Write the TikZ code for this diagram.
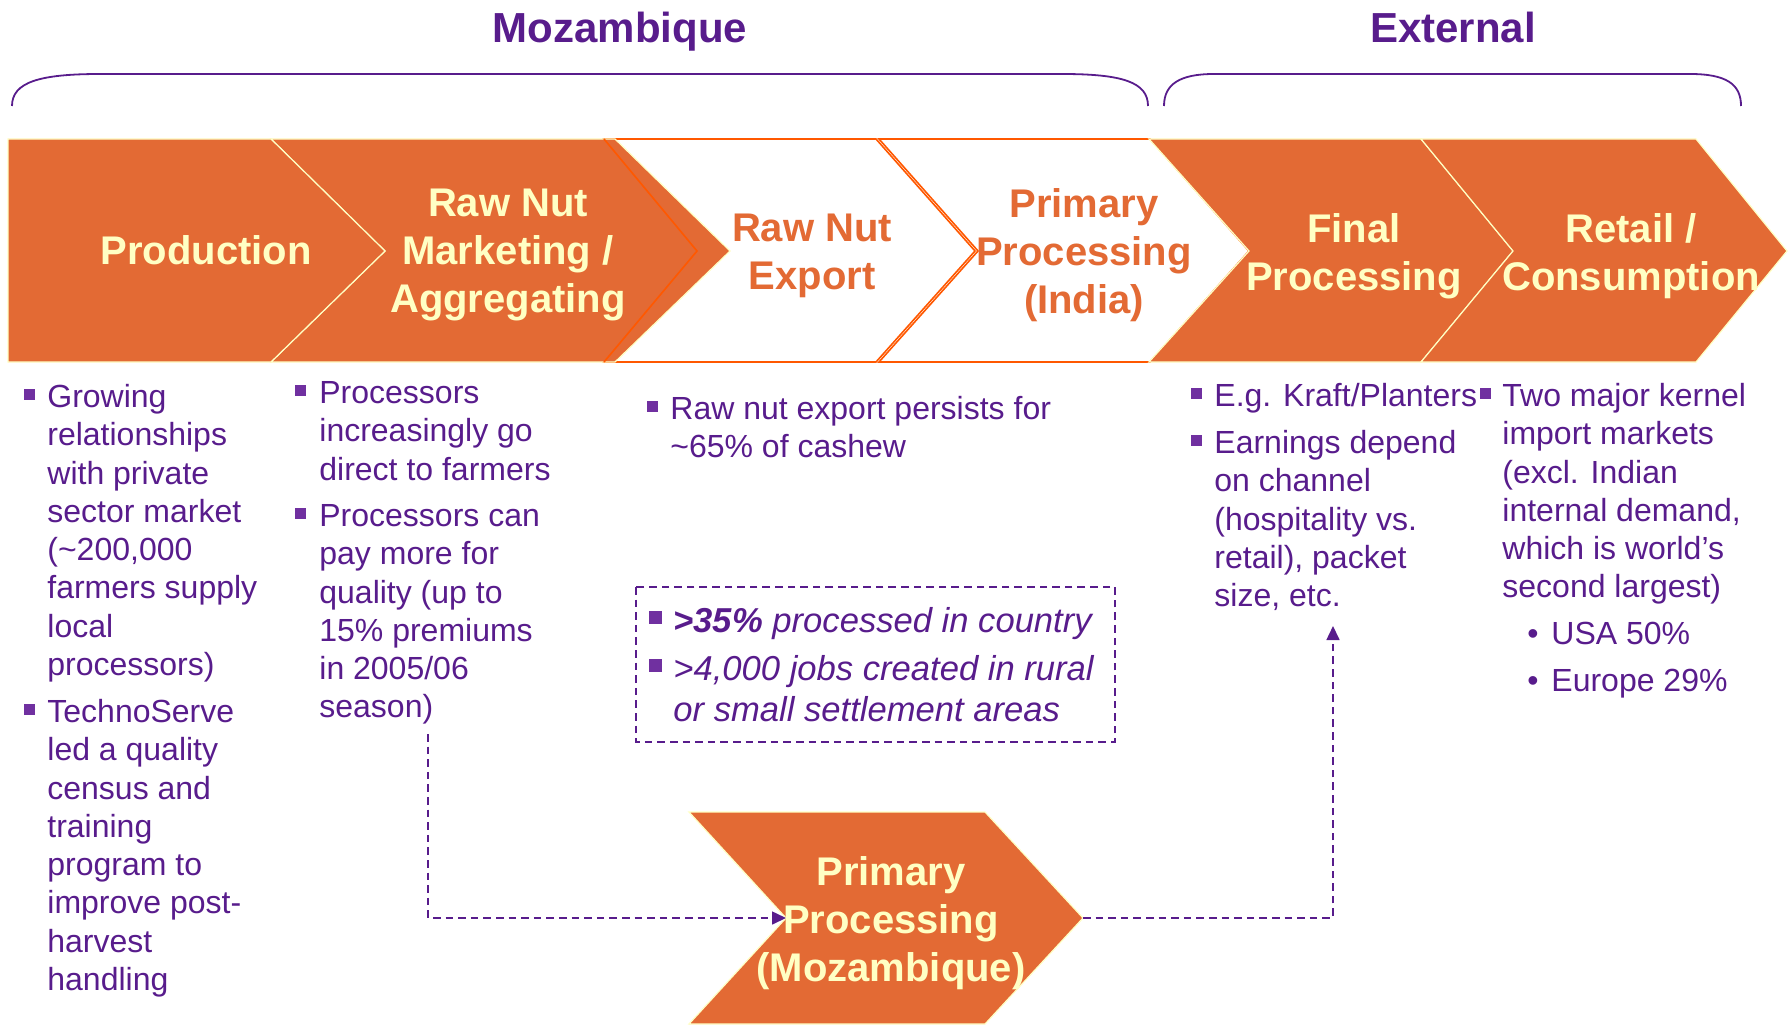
\documentclass[tikz,border=0pt]{standalone}
\usepackage{fontspec}
\setmainfont{Liberation Sans}
\usetikzlibrary{arrows.meta}

\definecolor{cashew}{RGB}{227,106,52}
\definecolor{cream}{RGB}{255,255,196}
\definecolor{rim}{RGB}{255,88,0}
\definecolor{plum}{RGB}{88,28,140}
\definecolor{bulc}{RGB}{112,48,160}

\tikzset{
  orch/.style={fill=cashew,draw=cream,line width=0.6pt},
  whch/.style={fill=white,draw=rim,line width=0.8pt},
  head/.style={font=\bfseries\fontsize{20}{24}\selectfont,align=center,text=cream},
  grp/.style={font=\bfseries\fontsize{21}{25}\selectfont,text=plum,anchor=base},
  brc/.style={draw=plum,line width=0.9pt},
  body/.style={anchor=north west,inner sep=0pt,align=left,text=plum,
    font=\fontsize{16}{19.15}\selectfont,yshift=13.4pt},
  boxt/.style={anchor=north west,inner sep=0pt,align=left,text=plum,
    font=\itshape\fontsize{17.3}{20.5}\selectfont,yshift=14.35pt},
  sq/.style={fill=bulc,minimum size=5.5pt,inner sep=0pt,yshift=6.5pt},
  bigsq/.style={fill=bulc,minimum size=6.5pt,inner sep=0pt,yshift=7.5pt},
  dot/.style={anchor=base,inner sep=0pt,text=plum,font=\fontsize{16}{19}\selectfont},
  note/.style={draw=plum,line width=0.8pt,dash pattern=on 3.8pt off 2.5pt},
  link/.style={note,-{Triangle[length=7pt,width=6.5pt]}},
}

\begin{document}
\begin{tikzpicture}[x=0.5pt,y=-0.5pt]
\useasboundingbox (0,0) rectangle (1791,1026);

% the two groups
\node[grp] (moz) at (620,43) {Mozambique};
\node[grp] (ext) at (1453,43) {External};
\draw[brc] (12,106) .. controls (12,82) and (40,74) .. (100,74) -- (1062,74)
  .. controls (1122,74) and (1148,82) .. (1148,106);
\draw[brc] (1164,106) .. controls (1164,84) and (1180,74) .. (1214,74) -- (1690,74)
  .. controls (1726,74) and (1741,84) .. (1741,106);

% value chain
\filldraw[whch] (604,139) -- (876,139) -- (975,251) -- (876,362) -- (604,362) -- (697,251) -- cycle;
\filldraw[whch] (879,139) -- (1150,139) -- (1249,251) -- (1150,362) -- (879,362) -- (978,251) -- cycle;
\filldraw[orch] (271,139) -- (615,139) -- (730,251) -- (615,362) -- (271,362) -- (385,251) -- cycle;
\draw[rim,line width=0.8pt] (604,139) -- (697,251) -- (604,362);
\filldraw[orch] (8,139) -- (271,139) -- (385,251) -- (271,362) -- (8,362) -- cycle;
\filldraw[orch] (1149,139) -- (1421,139) -- (1513,251) -- (1421,362) -- (1149,362) -- (1249,251) -- cycle;
\filldraw[orch] (1421,139) -- (1696,139) -- (1787,251) -- (1696,362) -- (1421,362) -- (1513,251) -- cycle;

\node[head] (prod) at (206,250) {Production};
\node[head] (mkt) at (508,255) {Raw Nut\\Marketing /\\Aggregating};
\node[head,text=cashew] (exp) at (812,256) {Raw Nut\\Export};
\node[head,text=cashew] (ppi) at (1084,255) {Primary\\Processing\\(India)};
\node[head] (fin) at (1354,256) {Final\\Processing};
\node[head] (ret) at (1631,256) {Retail /\\Consumption};

% local processing
\filldraw[orch] (689,812) -- (985,812) -- (1083,918) -- (985,1024) -- (689,1024) -- (786,918) -- cycle;
\coordinate (notch) at (786,918);
\coordinate (tip) at (1083,918);
\node[head] (ppm) at (891,923) {Primary\\Processing\\(Mozambique)};

% notes under each step
\node[sq] (b1) at (29,407) {};
\node[body] (grow) at (47,407) {\strut Growing\\relationships\\with private\\sector market\\(\textasciitilde200,000\\farmers supply\\local\\processors)};
\node[sq] (b2) at (29,722) {};
\node[body] (tns) at (47,722) {\strut TechnoServe\\led a quality\\census and\\training\\program to\\improve post-\\harvest\\handling};

\node[sq] (b3) at (300,403) {};
\node[body] (dir) at (319,403) {\strut Processors\\increasingly go\\direct to farmers};
\node[sq] (b4) at (300,526) {};
\node[body] (pay) at (319,526) {\strut Processors can\\pay more for\\quality (up to\\15\% premiums\\in 2005/06\\season)};

\node[sq] (b5) at (652,419) {};
\node[body] (rne) at (670,419) {\strut Raw nut export persists for\\\textasciitilde65\% of cashew};

\node[sq] (b6) at (1196,406) {};
\node[body] (kraft) at (1214,406) {\strut E.g. Kraft/Planters};
\node[sq] (b7) at (1196,453) {};
\node[body] (earn) at (1214,453) {\strut Earnings depend\\on channel\\(hospitality vs.\\retail), packet\\size, etc.};

\node[sq] (b8) at (1485,406) {};
\node[body] (mkts) at (1502,406) {\strut Two major kernel\\import markets\\(excl. Indian\\internal demand,\\which is world’s\\second largest)};
\node[dot] (d1) at (1533,644) {\textbullet};
\node[body] (usa) at (1551,644) {\strut USA 50\%};
\node[dot] (d2) at (1533,691) {\textbullet};
\node[body] (eur) at (1551,691) {\strut Europe 29\%};

% in-country gains
\draw[note] (636,587) rectangle (1115,742);
\node[bigsq] (b9) at (655,632) {};
\node[boxt] (pct) at (673,632) {\strut\textbf{>35\%} processed in country};
\node[bigsq] (b10) at (655,680) {};
\node[boxt] (jobs) at (673,680) {\strut >4,000 jobs created in rural\\or small settlement areas};

% flow through local processing
\coordinate (seas) at (428,734);
\coordinate (up) at (1333,626);
\draw[link] (seas) |- (notch);
\draw[link] (tip) -| (up);
\end{tikzpicture}
\end{document}
